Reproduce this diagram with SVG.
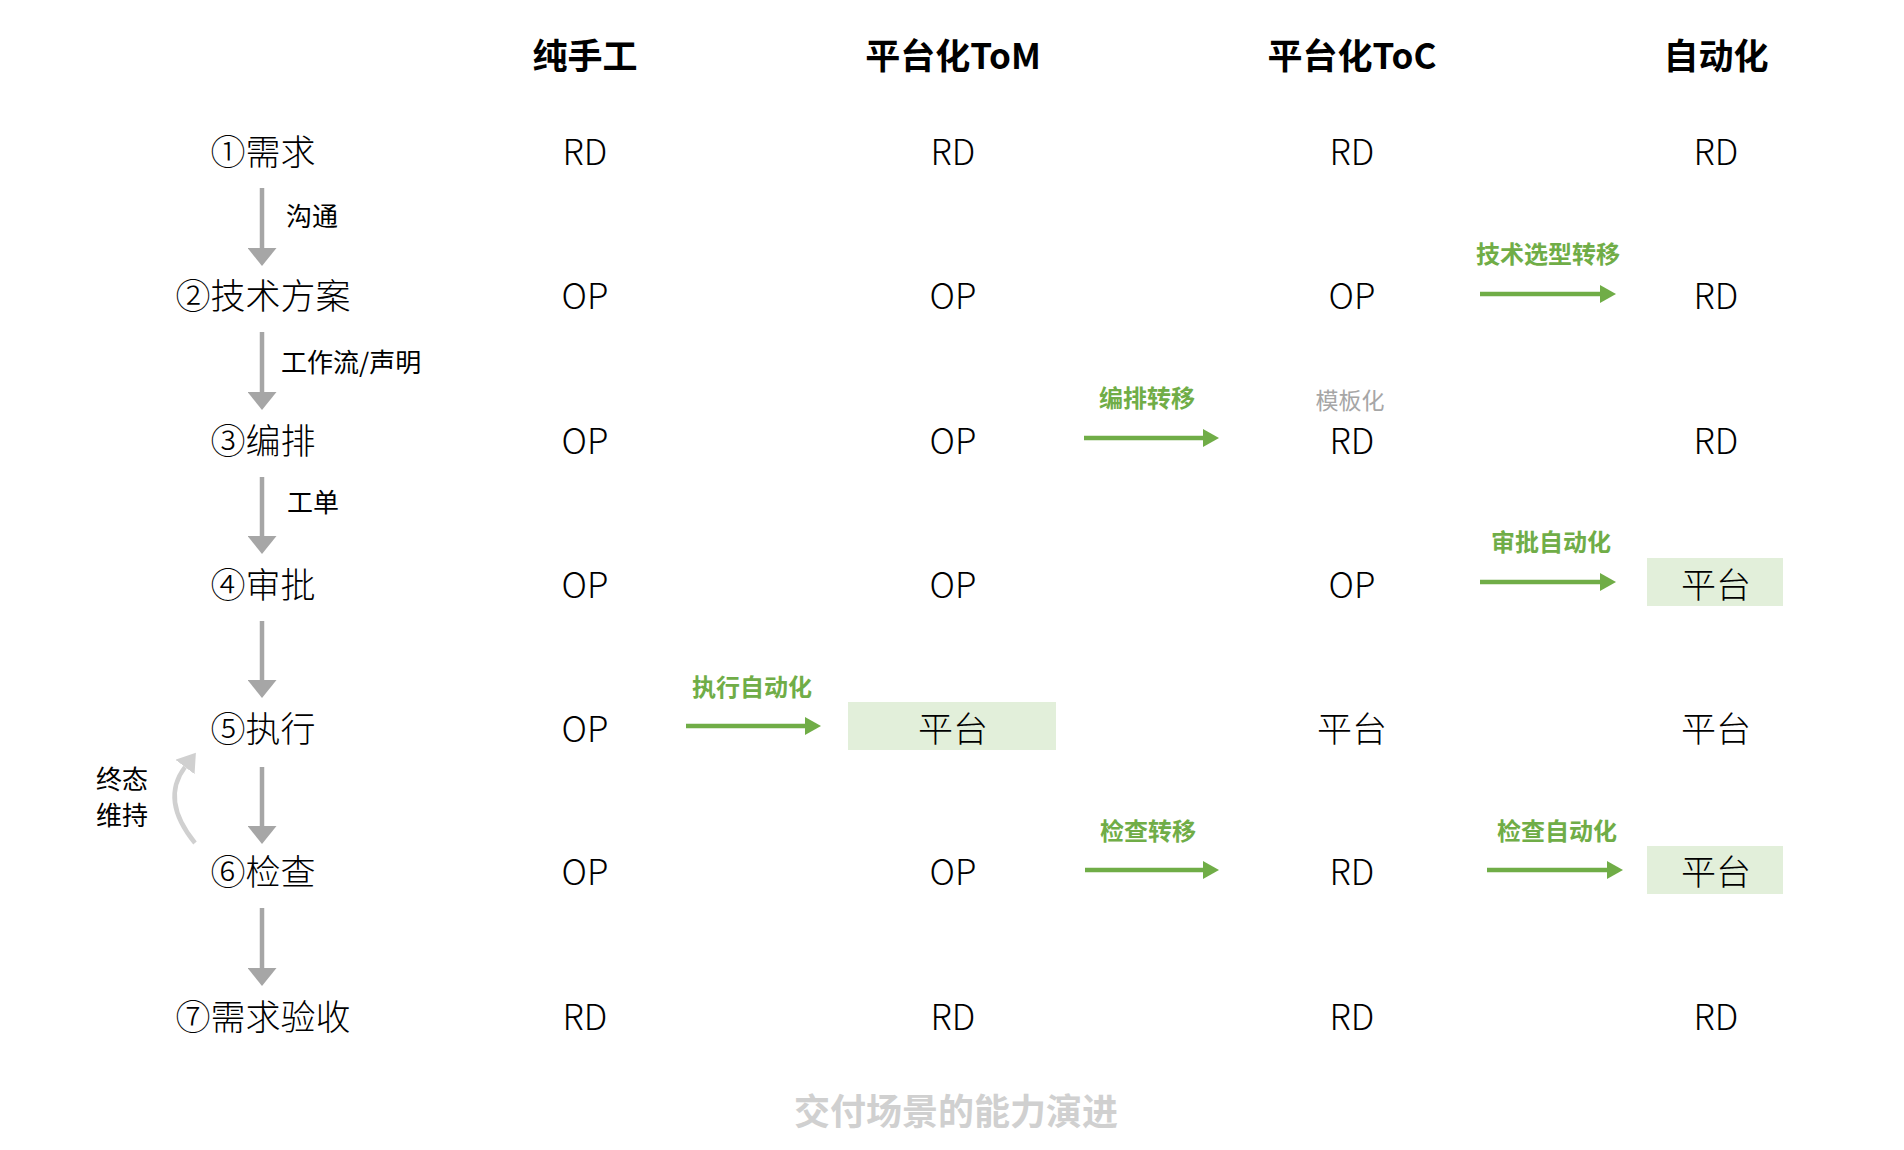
<svg xmlns="http://www.w3.org/2000/svg" width="1904" height="1150" viewBox="0 0 1904 1150">
<style>
text{font-family:"Noto Sans CJK SC","Noto Sans",sans-serif;}
.hd{font-size:35px;font-weight:bold;fill:#000;text-anchor:middle;}
.rl{font-size:35px;font-weight:300;fill:#000;text-anchor:middle;}
.cell{font-size:35px;font-weight:300;fill:#000;text-anchor:middle;}
.lab{font-size:26px;fill:#000;}
.gl{font-size:24px;font-weight:bold;fill:#70ad47;text-anchor:middle;}
.gray{stroke:#a6a6a6;stroke-width:4.5;fill:none;}
.green{stroke:#70ad47;stroke-width:4.5;fill:none;}
.box{fill:#e2efda;}
</style>
<defs>
<marker id="ag" markerUnits="userSpaceOnUse" markerWidth="18" markerHeight="29" viewBox="0 0 18 29" refX="0" refY="14.5" orient="auto"><path d="M0,0 L18,14.5 L0,29 z" fill="#a6a6a6"/></marker>
<marker id="agr" markerUnits="userSpaceOnUse" markerWidth="16" markerHeight="18" viewBox="0 0 16 18" refX="0" refY="9" orient="auto"><path d="M0,0 L16,9 L0,18 z" fill="#70ad47"/></marker>
<marker id="alt" markerUnits="userSpaceOnUse" markerWidth="18" markerHeight="24" viewBox="0 0 18 24" refX="0" refY="12" orient="auto"><path d="M0,0 L18,12 L0,24 z" fill="#d0d0d0"/></marker>
</defs>

<g id="headers">
<text class="hd" x="585" y="69">纯手工</text>
<text class="hd" x="953" y="69">平台化ToM</text>
<text class="hd" x="1352" y="69">平台化ToC</text>
<text class="hd" x="1716" y="69">自动化</text>
</g>

<g id="steps">
<g id="step1"><text class="rl" x="263" y="165">①需求</text></g>
<g id="step2"><text class="rl" x="263" y="309">②技术方案</text></g>
<g id="step3"><text class="rl" x="263" y="454">③编排</text></g>
<g id="step4"><text class="rl" x="263" y="598">④审批</text></g>
<g id="step5"><text class="rl" x="263" y="742">⑤执行</text></g>
<g id="step6"><text class="rl" x="263" y="885">⑥检查</text></g>
<g id="step7"><text class="rl" x="263" y="1030">⑦需求验收</text></g>
</g>

<g id="col-manual">
<text class="cell" x="585" y="165">RD</text>
<text class="cell" x="585" y="309">OP</text>
<text class="cell" x="585" y="454">OP</text>
<text class="cell" x="585" y="598">OP</text>
<text class="cell" x="585" y="742">OP</text>
<text class="cell" x="585" y="885">OP</text>
<text class="cell" x="585" y="1030">RD</text>
</g>

<g id="col-tom">
<text class="cell" x="953" y="165">RD</text>
<text class="cell" x="953" y="309">OP</text>
<text class="cell" x="953" y="454">OP</text>
<text class="cell" x="953" y="598">OP</text>
<g id="tom-platform"><rect class="box" x="848" y="702" width="208" height="48"/><text class="cell" x="953" y="742">平台</text></g>
<text class="cell" x="953" y="885">OP</text>
<text class="cell" x="953" y="1030">RD</text>
</g>

<g id="col-toc">
<text class="cell" x="1352" y="165">RD</text>
<text class="cell" x="1352" y="309">OP</text>
<text x="1350" y="409" style="font-size:23px;fill:#a6a6a6;text-anchor:middle">模板化</text>
<text class="cell" x="1352" y="454">RD</text>
<text class="cell" x="1352" y="598">OP</text>
<text class="cell" x="1352" y="742">平台</text>
<text class="cell" x="1352" y="885">RD</text>
<text class="cell" x="1352" y="1030">RD</text>
</g>

<g id="col-auto">
<text class="cell" x="1716" y="165">RD</text>
<text class="cell" x="1716" y="309">RD</text>
<text class="cell" x="1716" y="454">RD</text>
<g id="auto-approve"><rect class="box" x="1647" y="558" width="136" height="48"/><text class="cell" x="1716" y="598">平台</text></g>
<text class="cell" x="1716" y="742">平台</text>
<g id="auto-check"><rect class="box" x="1647" y="846" width="136" height="48"/><text class="cell" x="1716" y="885">平台</text></g>
<text class="cell" x="1716" y="1030">RD</text>
</g>

<g id="connectors">
<line class="gray" x1="262" y1="188" x2="262" y2="248" marker-end="url(#ag)"/>
<line class="gray" x1="262" y1="332" x2="262" y2="392" marker-end="url(#ag)"/>
<line class="gray" x1="262" y1="477" x2="262" y2="536" marker-end="url(#ag)"/>
<line class="gray" x1="262" y1="621" x2="262" y2="680" marker-end="url(#ag)"/>
<line class="gray" x1="262" y1="767" x2="262" y2="826" marker-end="url(#ag)"/>
<line class="gray" x1="262" y1="908" x2="262" y2="968" marker-end="url(#ag)"/>
<path d="M195,843 Q160,800 185,767" stroke="#d0d0d0" stroke-width="4.5" fill="none" marker-end="url(#alt)"/>
<line class="green" x1="1480" y1="294" x2="1600" y2="294" marker-end="url(#agr)"/>
<line class="green" x1="1084" y1="438" x2="1203" y2="438" marker-end="url(#agr)"/>
<line class="green" x1="1480" y1="582" x2="1600" y2="582" marker-end="url(#agr)"/>
<line class="green" x1="686" y1="726" x2="805" y2="726" marker-end="url(#agr)"/>
<line class="green" x1="1085" y1="870" x2="1203" y2="870" marker-end="url(#agr)"/>
<line class="green" x1="1487" y1="870" x2="1607" y2="870" marker-end="url(#agr)"/>
</g>

<g id="connector-labels">
<text class="lab" x="286" y="226">沟通</text>
<text class="lab" x="281" y="372">工作流/声明</text>
<text class="lab" x="287" y="512">工单</text>
<text class="lab" x="96" y="789">终态</text>
<text class="lab" x="96" y="825">维持</text>
<text class="gl" x="1548" y="263">技术选型转移</text>
<text class="gl" x="1147" y="407">编排转移</text>
<text class="gl" x="1551" y="551">审批自动化</text>
<text class="gl" x="752" y="696">执行自动化</text>
<text class="gl" x="1148" y="840">检查转移</text>
<text class="gl" x="1557" y="840">检查自动化</text>
</g>

<text x="956" y="1125" style="font-size:36px;font-weight:bold;fill:#d0d0d0;text-anchor:middle">交付场景的能力演进</text>
</svg>
